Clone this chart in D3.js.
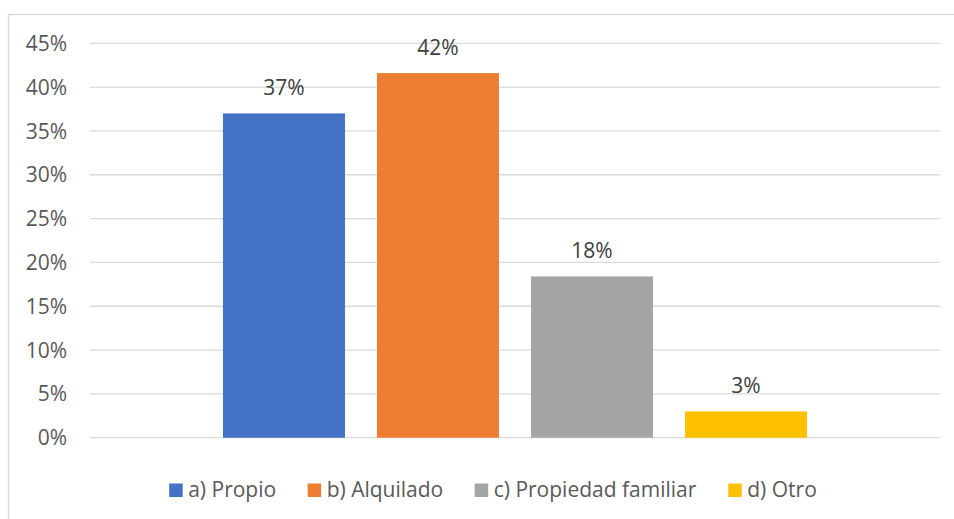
<!DOCTYPE html>
<html>
<head>
<meta charset="utf-8">
<script src="https://cdn.jsdelivr.net/npm/d3@7"></script>
<style>
  html, body { margin: 0; padding: 0; background: #fff; }
  svg { display: block; }
  text { font-family: "Open Sans", "Noto Sans", sans-serif; }
</style>
</head>
<body>
<svg id="chart" width="954" height="519"></svg>
<script>
const categories = ["Vivienda"];
const seriesNames = ["a) Propio", "b) Alquilado", "c) Propiedad familiar", "d) Otro"];
const seriesValues = [0.37, 0.416, 0.184, 0.03];
const seriesColors = ["#4472C4", "#ED7D31", "#A5A5A5", "#FFC000"];
const yTicks = [0, 0.05, 0.10, 0.15, 0.20, 0.25, 0.30, 0.35, 0.40, 0.45];

const svg = d3.select("#chart");
const W = 954, H = 519;

// chart frame (extends past the right/bottom edge like the reference crop)
svg.append("rect")
  .attr("x", 8.5).attr("y", 14.5)
  .attr("width", 1000).attr("height", 1000)
  .attr("fill", "#fff").attr("stroke", "#D9D9D9").attr("stroke-width", 1.3);

const plotLeft = 90, plotRight = 940;
const y = d3.scaleLinear().domain([0, 0.45]).range([437.7, 43.3]);

const x0 = d3.scaleBand().domain(categories).range([plotLeft, plotRight]).paddingOuter(0.2277);
const x1 = d3.scaleBand().domain(seriesNames).range([0, x0.bandwidth()]).paddingInner(0.208).paddingOuter(0);

// gridlines
svg.append("g").selectAll("line").data(yTicks).join("line")
  .attr("x1", plotLeft).attr("x2", plotRight)
  .attr("y1", d => y(d)).attr("y2", d => y(d))
  .attr("stroke", "#D9D9D9").attr("stroke-width", 1.3);

// y tick labels
const fmt = d3.format(".0%");
svg.append("g").selectAll("text").data(yTicks).join("text")
  .attr("x", 67).attr("y", d => y(d) + 7.6)
  .attr("text-anchor", "end")
  .attr("font-size", 21).attr("fill", "#595959")
  .text(d => fmt(d));

// bars
const data = seriesNames.map((s, i) => ({ cat: categories[0], name: s, value: seriesValues[i], color: seriesColors[i] }));
svg.append("g").selectAll("rect").data(data).join("rect")
  .attr("x", d => x0(d.cat) + x1(d.name))
  .attr("y", d => y(d.value))
  .attr("width", x1.bandwidth())
  .attr("height", d => y(0) - y(d.value))
  .attr("fill", d => d.color);

// data labels
svg.append("g").selectAll("text").data(data).join("text")
  .attr("x", d => x0(d.cat) + x1(d.name) + x1.bandwidth() / 2)
  .attr("y", d => y(d.value) - 18)
  .attr("text-anchor", "middle")
  .attr("font-size", 21).attr("fill", "#404040")
  .text(d => fmt(d.value));

// legend
const legend = svg.append("g");
const sq = 13.5, sqGap = 5.5, itemGap = 31.5, legendCenter = 493, baseY = 497;
const items = legend.selectAll("g").data(data).join("g");
items.append("rect")
  .attr("width", sq).attr("height", sq)
  .attr("y", baseY - sq)
  .attr("fill", d => d.color);
items.append("text")
  .attr("x", sq + sqGap).attr("y", baseY)
  .attr("font-size", 21).attr("fill", "#595959")
  .text(d => d.name);
let widths = [];
items.each(function() { widths.push(this.getBBox().width); });
const total = d3.sum(widths) + itemGap * (widths.length - 1);
let cx = legendCenter - total / 2;
items.each(function(d, i) {
  d3.select(this).attr("transform", `translate(${cx},0)`);
  cx += widths[i] + itemGap;
});
</script>
</body>
</html>
